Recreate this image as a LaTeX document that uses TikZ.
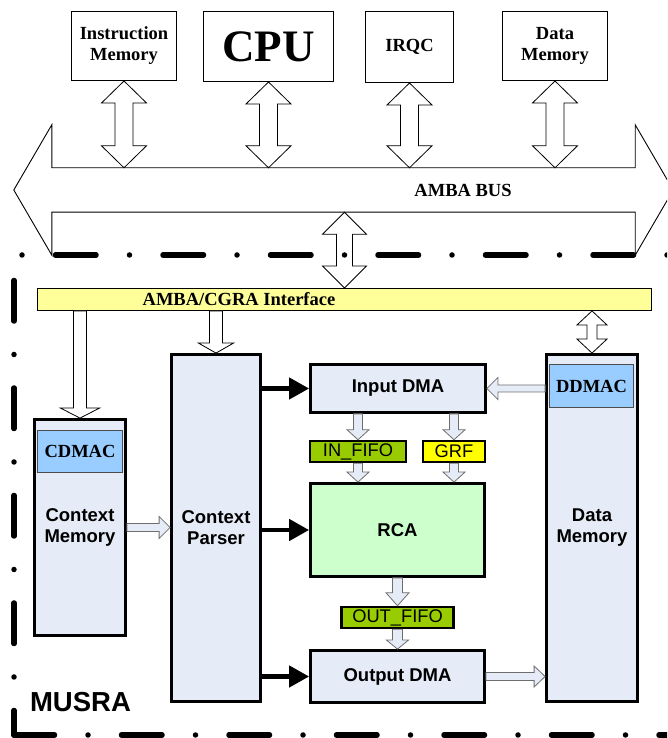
\documentclass[tikz,border=0pt]{standalone}
\usepackage{fontspec}
\setmainfont{Liberation Serif}
\setsansfont{Liberation Sans}
\usetikzlibrary{calc,arrows.meta}

\definecolor{blockfill}{RGB}{230,236,247}
\definecolor{dmacfill}{RGB}{153,204,255}
\definecolor{fifofill}{RGB}{153,204,0}
\definecolor{grffill}{RGB}{255,255,0}
\definecolor{rcafill}{RGB}{204,255,204}
\definecolor{ifacefill}{RGB}{255,255,153}
\definecolor{arrowline}{RGB}{110,110,110}

\newcommand{\vertarrow}[6][]{%
  \coordinate (ta) at (#2);
  \coordinate (tb) at (#3);
  \filldraw[#1] ($(ta)+(-#5,0)$) -- ($(tb)+(-#5,#6)$) -- ($(tb)+(-#4,#6)$) -- (tb)
    -- ($(tb)+(#4,#6)$) -- ($(tb)+(#5,#6)$) -- ($(ta)+(#5,0)$) -- cycle;
}
\newcommand{\horzarrow}[6][]{%
  \coordinate (ta) at (#2);
  \coordinate (tb) at (#3);
  \filldraw[#1] ($(ta)+(0,#5)$) -- ($(tb)+({-(#6)},#5)$) -- ($(tb)+({-(#6)},#4)$) -- (tb)
    -- ($(tb)+({-(#6)},-#4)$) -- ($(tb)+({-(#6)},-#5)$) -- ($(ta)+(0,-#5)$) -- cycle;
}
\newcommand{\dblarrow}[6][]{%
  \coordinate (ta) at (#2);
  \coordinate (tb) at (#3);
  \filldraw[#1] (ta) -- ($(ta)+(#4,-#6)$) -- ($(ta)+(#5,-#6)$) -- ($(tb)+(#5,#6)$)
    -- ($(tb)+(#4,#6)$) -- (tb) -- ($(tb)+(-#4,#6)$) -- ($(tb)+(-#5,#6)$)
    -- ($(ta)+(-#5,-#6)$) -- ($(ta)+(-#4,-#6)$) -- cycle;
}

\begin{document}
\begin{tikzpicture}[x=1pt, y=1pt,
    serifbold/.style={font=\fontsize{18.5}{21}\selectfont\bfseries},
    topbox/.style={draw, line width=1pt, align=center, inner sep=0pt, serifbold},
    blockbox/.style={draw, line width=2.8pt, fill=blockfill, align=center, inner sep=0pt,
        font=\sffamily\fontsize{18.5}{21}\selectfont\bfseries},
    dmacbox/.style={draw=black!70, line width=0.8pt, fill=dmacfill, inner sep=0pt, serifbold},
    fifobox/.style={draw, line width=2.5pt, inner sep=0pt, font=\sffamily\fontsize{18.3}{21}\selectfont},
    hollow/.style={draw=black, fill=white, line width=0.8pt},
    smallarrow/.style={draw=arrowline, fill=blockfill, line width=0.8pt},
    datapath/.style={line width=4.5pt, line cap=round, -{Triangle[length=20pt,width=21pt]}},
    frameline/.style={line width=5.5pt, line cap=round, dash pattern=on 40.5pt off 33.5pt on 0pt off 33.5pt}]
    \path[use as bounding box, clip] (0,0) rectangle (667,738);

    \draw (124, 692) node[topbox, minimum width=105pt, minimum height=69pt] (imem) {Instruction\\Memory};
    \draw (268.5, 691.5) node[topbox, minimum width=130pt, minimum height=70pt, font=\fontsize{45}{45}\selectfont\bfseries] (cpu) {CPU};
    \draw (409.5, 691) node[topbox, minimum width=88pt, minimum height=71pt] (irqc) {IRQC};
    \draw (555, 692) node[topbox, minimum width=105pt, minimum height=69pt] (tdmem) {Data\\Memory};

    \draw (343.5, 548) node[minimum width=583pt, minimum height=44pt, inner sep=0pt] (bus) {};
    \draw[line width=0.9pt] (bus.north west) -- ++(0,43) -- ($(bus.west)+(-38,0)$) -- ($(bus.south west)+(0,-43)$)
        -- (bus.south west) -- (bus.south east) -- ++(0,-43) -- ($(bus.east)+(38,0)$)
        -- ($(bus.north east)+(0,43)$) -- (bus.north east) -- cycle;
    \draw (463, 548) node[serifbold] (buslabel) {AMBA BUS};

    \draw (344.5, 438.5) node[draw, line width=0.9pt, fill=ifacefill, minimum width=614pt, minimum height=22pt, inner sep=0pt] (iface) {};
    \draw (239, 438.5) node[serifbold] (ifacetext) {AMBA/CGRA Interface};

    \draw (80, 210.5) node[blockbox, minimum width=91pt, minimum height=216pt] (cmem) {Context\\Memory};
    \draw (80, 286.5) node[dmacbox, minimum width=85pt, minimum height=42pt] (cdmac) {CDMAC};
    \draw (216, 210) node[blockbox, minimum width=89pt, minimum height=347pt] (cparser) {Context\\Parser};
    \draw (398, 349.5) node[blockbox, minimum width=175pt, minimum height=48pt] (indma) {Input DMA};
    \draw (358, 286.5) node[fifobox, fill=fifofill, minimum width=96pt, minimum height=21pt] (infifo) {IN\_FIFO};
    \draw (454, 286.5) node[fifobox, fill=grffill, minimum width=62pt, minimum height=21pt] (grf) {GRF};
    \draw (397.5, 208) node[blockbox, fill=rcafill, minimum width=174pt, minimum height=93pt] (rca) {RCA};
    \draw (397.5, 120.5) node[fifobox, fill=fifofill, minimum width=112pt, minimum height=21pt] (outfifo) {OUT\_FIFO};
    \draw (397.5, 61.5) node[blockbox, minimum width=174pt, minimum height=52pt] (outdma) {Output DMA};
    \draw (592, 210) node[blockbox, minimum width=91pt, minimum height=347pt] (dmem) {Data\\Memory};
    \draw (591.5, 352) node[dmacbox, minimum width=84pt, minimum height=43pt] (ddmac) {DDMAC};
    \draw (80.5, 36) node[font=\sffamily\fontsize{27.5}{30}\selectfont\bfseries] (musra) {MUSRA};

    \dblarrow[hollow]{imem.south}{imem.south |- bus.north}{22.5}{9}{22}
    \dblarrow[hollow]{cpu.south}{cpu.south |- bus.north}{22.5}{9}{22}
    \dblarrow[hollow]{irqc.south}{irqc.south |- bus.north}{22.5}{9}{22}
    \dblarrow[hollow]{tdmem.south}{tdmem.south |- bus.north}{22.5}{9}{22}
    \dblarrow[hollow]{iface.north |- bus.south}{iface.north}{22}{8}{22}
    \dblarrow[hollow]{dmem.north |- iface.south}{dmem.north}{15}{5}{14}

    \vertarrow[hollow]{cmem.north |- iface.south}{cmem.north}{19.5}{6.5}{10}
    \vertarrow[hollow]{cparser.north |- iface.south}{cparser.north}{17.5}{6.5}{10}
    \horzarrow[smallarrow]{cmem.east}{cparser.west |- cmem.east}{11}{4}{11}
    \horzarrow[smallarrow]{dmem.west |- indma.east}{indma.east}{11}{3.5}{-11}
    \horzarrow[smallarrow]{outdma.east}{dmem.west |- outdma.east}{10.5}{4}{11}
    \vertarrow[smallarrow]{indma.south -| infifo.north}{infifo.north}{11}{4.5}{10}
    \vertarrow[smallarrow]{indma.south -| grf.north}{grf.north}{11}{4.5}{10}
    \vertarrow[smallarrow]{infifo.south}{infifo.south |- rca.north}{11}{4.5}{10}
    \vertarrow[smallarrow]{grf.south}{grf.south |- rca.north}{11}{4.5}{10}
    \vertarrow[smallarrow]{rca.south}{outfifo.north}{11.5}{5}{13}
    \vertarrow[smallarrow]{outfifo.south}{outdma.north}{11}{5}{9}

    \draw[datapath] (cparser.east |- indma.west) -- (indma.west);
    \draw[datapath] (cparser.east |- rca.west) -- (rca.west);
    \draw[datapath] (cparser.east |- outdma.west) -- (outdma.west);

    \draw[frameline, dash phase=16pt] (14,3) -- (14,483) -- (700,483);
    \draw[frameline] (14,3) -- (700,3);
\end{tikzpicture}
\end{document}
